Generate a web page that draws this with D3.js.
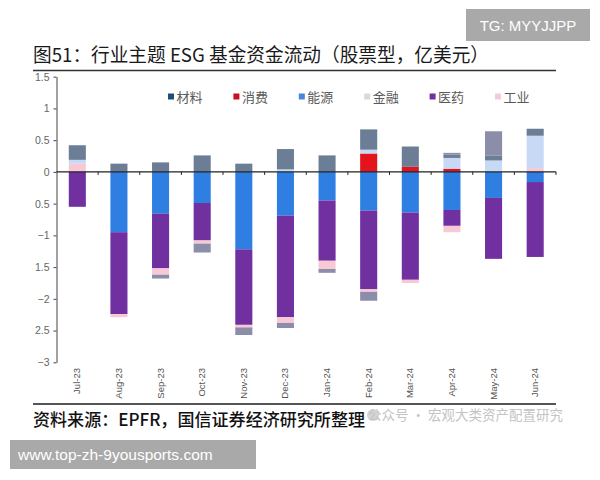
<!DOCTYPE html>
<html lang="zh">
<head>
<meta charset="utf-8">
<title>行业主题 ESG 基金资金流动</title>
<script src="https://cdn.jsdelivr.net/npm/d3@7"></script>
<style>
  body { margin: 0; background: #fff; }
  text { font-family: "Liberation Sans", Arial, "Noto Sans CJK SC", sans-serif; }
  .cjk { font-family: "Noto Sans CJK SC", "Liberation Sans", sans-serif; }
</style>
</head>
<body>
<script>
// data (亿美元)
const months = ["Jul-23", "Aug-23", "Sep-23", "Oct-23", "Nov-23", "Dec-23",
                "Jan-24", "Feb-24", "Mar-24", "Apr-24", "May-24", "Jun-24"];

const cailiao  = [0.23, 0.13, 0.15, 0.26, 0.13, 0.32, 0.26, 0.32, 0.32, 0.05, 0.08, 0.11];   // 材料
const xiaofei  = [0, 0, 0, 0, 0, 0, 0, 0.29, 0.08, 0.05, 0, 0];                              // 消费
const nengyuan = [0, -0.95, -0.66, -0.49, -1.22, -0.69, -0.45, -0.61, -0.64, -0.60, -0.41, -0.16]; // 能源
const jinrong  = [0.06, 0, 0, 0, 0, 0.04, 0, 0.06, 0, 0.17, 0.18, 0.51];                     // 金融
const yiyao    = [-0.55, -1.29, -0.86, -0.59, -1.19, -1.60, -0.95, -1.24, -1.06, -0.25, -0.96, -1.18]; // 医药
const gongye   = [0.13, -0.05, -0.10, -0.05, -0.04, -0.09, -0.13, -0.04, -0.05, -0.10, 0, 0.06]; // 工业
const qita     = [0, 0, -0.06, -0.14, -0.12, -0.08, -0.06, -0.14, 0, 0.03, 0.38, 0];          // 其他 (not in legend)

const legendNames = ["材料", "消费", "能源", "金融", "医药", "工业"];
const stackOrder = ["消费", "能源", "医药", "工业", "金融", "材料", "其他"];

const yTicks = [-3, -2.5, -2, -1.5, -1, -0.5, 0, 0.5, 1, 1.5];
const yTickLabels = ["−3", "2.5", "−2", "1.5", "−1", "0.5", "0", "0.5", "1", "1.5"];

const barColor = {
  "材料": "#6c7d96", "消费": "#e3141c", "能源": "#2f7fe2", "金融": "#c7d9f5",
  "医药": "#7030a0", "工业": "#f8c9d5", "其他": "#8b8da9"
};
const legendColor = {
  "材料": "#1f4e79", "消费": "#c8101e", "能源": "#4a86d8", "金融": "#d9d9d9",
  "医药": "#7030a0", "工业": "#f4ccd8"
};

const rows = months.map((m, i) => ({
  month: m,
  "材料": cailiao[i], "消费": xiaofei[i], "能源": nengyuan[i], "金融": jinrong[i],
  "医药": yiyao[i], "工业": gongye[i], "其他": qita[i]
}));

const w = 600, h = 480;
const svg = d3.select("body").append("svg")
  .attr("width", w).attr("height", h);

// header
svg.append("rect").attr("x", 466).attr("y", 9).attr("width", 124).attr("height", 32)
  .attr("fill", "#a9a9a9");
svg.append("text").attr("x", 528).attr("y", 31).attr("text-anchor", "middle")
  .attr("font-size", 15).attr("fill", "#fff").text("TG: MYYJJPP");

svg.append("text").attr("class", "cjk")
  .attr("x", 33).attr("y", 62)
  .attr("font-size", 19).attr("fill", "#1a1a1a")
  .attr("textLength", 456).attr("lengthAdjust", "spacingAndGlyphs")
  .text("图51：行业主题 ESG 基金资金流动（股票型，亿美元）");

svg.append("line").attr("x1", 33).attr("x2", 556).attr("y1", 70.5).attr("y2", 70.5)
  .attr("stroke", "#333").attr("stroke-width", 1.5);

// scales
const x = d3.scaleBand()
  .domain(months)
  .range([56.5, 556])
  .paddingInner(0.59)
  .paddingOuter(0.295);

const y = d3.scaleLinear()
  .domain([-3, 1.5])
  .range([362.3, 76.7]);

// y axis
const yAxis = svg.append("g")
  .attr("transform", "translate(56.5,0)")
  .call(d3.axisLeft(y).tickValues(yTicks).tickFormat((d, i) => yTickLabels[i])
    .tickSize(3).tickSizeOuter(0).tickPadding(4));
yAxis.select(".domain").attr("stroke", "#444");
yAxis.selectAll(".tick line").attr("stroke", "#444");
yAxis.selectAll(".tick text").attr("fill", "#666").attr("font-size", 10.5)
  .attr("font-family", "Liberation Sans, Arial, sans-serif");

// stacked bars
const stack = d3.stack().keys(stackOrder).offset(d3.stackOffsetDiverging);
const layers = stack(rows);

svg.append("g").selectAll("g")
  .data(layers)
  .join("g")
  .attr("fill", d => barColor[d.key])
  .selectAll("rect")
  .data(d => d)
  .join("rect")
  .attr("x", d => x(d.data.month))
  .attr("width", x.bandwidth())
  .attr("y", d => y(d[1]))
  .attr("height", d => y(d[0]) - y(d[1]));

// zero line with category ticks
svg.append("line").attr("x1", 56.5).attr("x2", 556).attr("y1", y(0)).attr("y2", y(0))
  .attr("stroke", "#222").attr("stroke-width", 1.3);
svg.append("g").selectAll("line")
  .data(months)
  .join("line")
  .attr("x1", d => x(d) + x.bandwidth() / 2 + x.step() / 2)
  .attr("x2", d => x(d) + x.bandwidth() / 2 + x.step() / 2)
  .attr("y1", y(0)).attr("y2", y(0) + 3)
  .attr("stroke", "#222");

// x labels
svg.append("g").selectAll("text")
  .data(months)
  .join("text")
  .attr("transform", d => `translate(${x(d) + x.bandwidth() / 2 + 3},368) rotate(-90)`)
  .attr("text-anchor", "end")
  .attr("font-size", 9.5)
  .attr("fill", "#555")
  .text(d => d);

// legend
const legend = svg.append("g").selectAll("g")
  .data(legendNames)
  .join("g")
  .attr("transform", (d, i) => `translate(${168 + i * 65.4},0)`);
legend.append("rect").attr("x", 0).attr("y", 93.5).attr("width", 6).attr("height", 6)
  .attr("fill", d => legendColor[d]);
legend.append("text").attr("class", "cjk").attr("x", 8.5).attr("y", 101.5)
  .attr("font-size", 13).attr("fill", "#595959").text(d => d);

// footer
svg.append("line").attr("x1", 33).attr("x2", 556).attr("y1", 404).attr("y2", 404)
  .attr("stroke", "#555").attr("stroke-width", 2);

svg.append("circle").attr("cx", 373).attr("cy", 415).attr("r", 6).attr("fill", "#d4d4d4");
svg.append("text").attr("class", "cjk").attr("x", 368).attr("y", 420)
  .attr("font-size", 13.5).attr("fill", "#c4c4c4")
  .text("公众号 · 宏观大类资产配置研究");

svg.append("text").attr("class", "cjk")
  .attr("x", 33).attr("y", 426)
  .attr("font-size", 17).attr("fill", "#111").attr("font-weight", 500)
  .attr("textLength", 332).attr("lengthAdjust", "spacingAndGlyphs")
  .text("资料来源：EPFR，国信证券经济研究所整理");

svg.append("rect").attr("x", 10).attr("y", 440).attr("width", 246).attr("height", 29)
  .attr("fill", "#a9a9a9");
svg.append("text").attr("x", 18).attr("y", 460)
  .attr("font-size", 15.5).attr("fill", "#fff")
  .text("www.top-zh-9yousports.com");
</script>
</body>
</html>
